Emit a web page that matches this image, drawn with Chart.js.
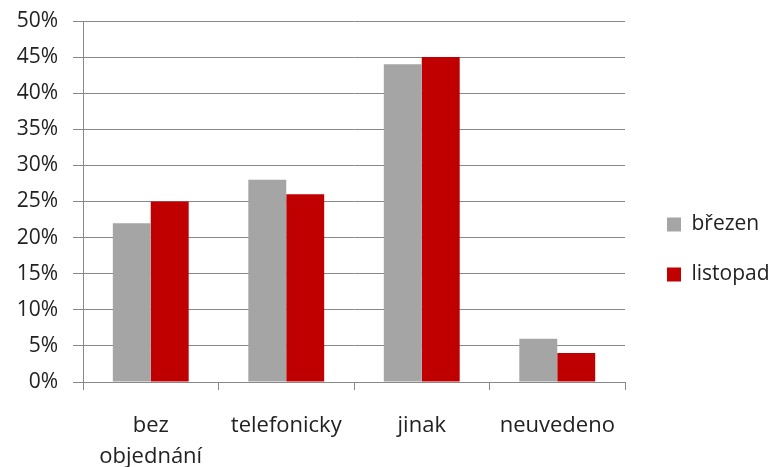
<!DOCTYPE html>
<html>
<head>
<meta charset="utf-8">
<script src="https://cdn.jsdelivr.net/npm/chart.js@4"></script>
<style>
  html, body { margin: 0; padding: 0; background: #fff; }
  #wrap { width: 771px; height: 467px; }
</style>
</head>
<body>
<div id="wrap"><canvas id="c" width="771" height="467"></canvas></div>
<script>
const categories = [["bez", "objednání"], "telefonicky", "jinak", "neuvedeno"];
const seriesNames = ["březen", "listopad"];
const brezen = [22, 28, 44, 6];
const listopad = [25, 26, 45, 4];
const yTicks = [0, 5, 10, 15, 20, 25, 30, 35, 40, 45, 50];

const gridColor = "#888888";
const textColor = "#222222";
const fontFamily = "'Open Sans', sans-serif";

const legendTune = {
  id: "legendTune",
  afterInit(chart) {
    const lg = chart.legend;
    if (!lg) return;
    const origFit = lg.fit.bind(lg);
    lg.fit = function () { origFit(); this.width = 146; };
  },
  afterUpdate(chart) {
    const lg = chart.legend;
    if (lg) { lg.left += 13; lg.right += 13; lg.top += 16; lg.bottom += 16; }
  }
};

new Chart(document.getElementById("c"), {
  type: "bar",
  data: {
    labels: categories,
    datasets: [
      { label: seriesNames[0], data: brezen, backgroundColor: "#A5A5A5", categoryPercentage: 0.56, barPercentage: 1 },
      { label: seriesNames[1], data: listopad, backgroundColor: "#C00000", categoryPercentage: 0.56, barPercentage: 1 }
    ]
  },
  options: {
    responsive: false,
    animation: false,
    devicePixelRatio: 1,
    layout: { padding: { top: 0, left: 0, right: 0, bottom: 0 } },
    plugins: {
      tooltip: { enabled: false },
      legend: {
        position: "right",
        labels: {
          boxWidth: 14, boxHeight: 14, padding: 29,
          color: textColor,
          font: { family: fontFamily, size: 21 }
        }
      }
    },
    scales: {
      x: {
        grid: { display: true, drawOnChartArea: false, color: gridColor, tickLength: 8, offset: true },
        border: { color: gridColor, width: 1 },
        ticks: { color: textColor, padding: 20, font: { family: fontFamily, size: 22, lineHeight: 1.42 }, maxRotation: 0 },
        afterFit(scale) { scale.height = 85; }
      },
      y: {
        min: 0, max: 50,
        afterBuildTicks(scale) { scale.ticks = yTicks.map(v => ({ value: v })); },
        grid: { color: gridColor, tickLength: 10, lineWidth: 1 },
        border: { color: gridColor, width: 1 },
        ticks: {
          color: textColor, padding: 15,
          font: { family: fontFamily, size: 21 },
          callback: v => v + "%"
        },
        afterFit(scale) { scale.width = 83; scale.paddingTop = 21; scale.paddingBottom = 10; }
      }
    }
  },
  plugins: [legendTune]
});
</script>
</body>
</html>
